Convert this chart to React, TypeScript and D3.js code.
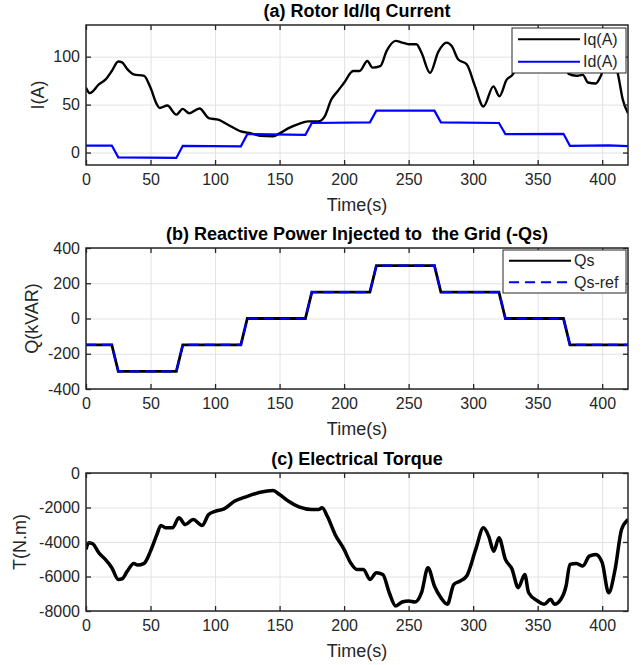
import { useEffect, useRef } from "react";
import * as d3 from "d3";

const W = 641;
const H = 665;

const xTicks = [0, 50, 100, 150, 200, 250, 300, 350, 400];

// (a) rotor currents
const iqTime = [0, 3, 10, 15, 20, 25, 28, 32, 37, 45, 50, 55, 57, 63, 70, 75, 80, 88, 95, 103, 110, 120, 128, 135, 145, 150, 157, 165, 172, 180, 185, 190, 195, 200, 207, 212, 218, 222, 228, 233, 240, 245, 250, 256, 260, 266.6, 273, 279.5, 283.4, 288.5, 295, 301.5, 308, 315.7, 320.3, 326, 330, 333, 337, 340, 345, 350, 355, 360, 365, 370, 374, 380, 385, 389, 395, 399, 405, 409, 412, 416, 420];
const iqValues = [67.5, 62, 71, 76, 85, 95, 94, 87, 81.5, 80, 67.5, 50, 46.5, 49, 39.5, 45.5, 41, 46, 36, 34, 29, 22, 20, 17.5, 17, 20, 25.5, 30, 32.5, 32.5, 37.8, 55, 64, 72.7, 85, 85, 95.5, 88.5, 90, 106, 116.4, 114.7, 113, 113, 104, 83, 105, 114.6, 111, 97, 92, 69, 48, 69, 58.7, 76, 80.4, 86, 95, 92, 100, 108, 112, 110, 110, 100, 82, 80, 81, 73, 72, 80, 103, 95, 83, 55, 41];
const idTime = [0, 20, 25, 70, 75, 120, 125, 170, 175, 220, 225, 270, 275, 320, 325, 370, 375, 405, 420];
const idValues = [7.3, 7.3, -5, -5.6, 7, 6.5, 19.2, 18.5, 30.8, 31.5, 43.7, 43.7, 31.5, 30.8, 19.2, 19.5, 7, 7.5, 6.6];

// (b) reactive power
const qsTime = [0, 20, 25, 70, 75, 120, 125, 170, 175, 220, 225, 270, 275, 320, 325, 370, 375, 420];
const qsValues = [-150, -150, -300, -300, -150, -150, 0, 0, 150, 150, 300, 300, 150, 150, 0, 0, -150, -150];
const qsRefValues = [-150, -150, -300, -300, -150, -150, 0, 0, 150, 150, 300, 300, 150, 150, 0, 0, -150, -150];

// (c) electrical torque
const torqueTime = [0, 2, 5, 10, 15, 20, 25, 28, 32, 37, 40, 45, 50, 55, 58, 62, 67, 72, 77, 83, 90, 95, 100, 107, 115, 125, 135, 145, 150, 157, 165, 175, 180, 183, 187, 193, 200, 205, 210, 215, 220, 225, 230, 235, 240, 245, 250, 255, 260, 265, 270, 275, 280, 285, 290, 295, 302, 308, 312, 316, 320, 325, 330, 335, 340, 343, 350, 355, 360, 363, 368, 372, 375, 380, 385, 390, 395, 400, 405, 410, 415, 420];
const torqueValues = [-4430, -4050, -4090, -4630, -5010, -5490, -6170, -6130, -5690, -5240, -5340, -5240, -4530, -3560, -3040, -3180, -3180, -2600, -2990, -2700, -3040, -2410, -2220, -2080, -1640, -1350, -1120, -1020, -1250, -1640, -1970, -2120, -2120, -2020, -2510, -3560, -4430, -5200, -5590, -5590, -6170, -5780, -5880, -6940, -7710, -7480, -7420, -7480, -6940, -5490, -6550, -7230, -7610, -6460, -6260, -5970, -4430, -3180, -3660, -4530, -3760, -5010, -5550, -6650, -5880, -6940, -7420, -7610, -7320, -7610, -7320, -6550, -5300, -5240, -5390, -4820, -4720, -5200, -6940, -5590, -3280, -2700];

const font = "'Liberation Sans', Arial, Helvetica, sans-serif";
const ink = "#262626";

const App = () => {
  const ref = useRef<SVGSVGElement>(null);

  useEffect(() => {
    const svg = d3.select(ref.current);
    svg.selectAll("*").remove();
    svg.append("rect").attr("width", W).attr("height", H).attr("fill", "white");

    const x = d3.scaleLinear().domain([0, 420]).range([86, 628]);
    const [x0, x1] = x.range();

    const panel = (id, top, bottom, yDomain, yTicks, title, ylabel, ylabelX) => {
      const y = d3.scaleLinear().domain(yDomain).range([bottom, top]);
      const grid = svg.append("g");
      const data = svg.append("g").attr("clip-path", `url(#clip-${id})`);
      const frame = svg.append("g");

      svg.append("clipPath").attr("id", `clip-${id}`)
        .append("rect").attr("x", x0).attr("y", top).attr("width", x1 - x0).attr("height", bottom - top);

      grid.append("g").attr("transform", `translate(0,${bottom})`)
        .call(d3.axisBottom(x).tickValues(xTicks).tickSize(-(bottom - top)).tickFormat(() => ""))
        .call(g => g.select(".domain").remove())
        .call(g => g.selectAll("line").attr("stroke", "#e2e2e2").attr("stroke-width", 1));
      grid.append("g").attr("transform", `translate(${x0},0)`)
        .call(d3.axisLeft(y).tickValues(yTicks).tickSize(-(x1 - x0)).tickFormat(() => ""))
        .call(g => g.select(".domain").remove())
        .call(g => g.selectAll("line").attr("stroke", "#e2e2e2").attr("stroke-width", 1));

      const styleAxis = g => {
        g.select(".domain").remove();
        g.selectAll("line").attr("stroke", ink).attr("stroke-width", 1.3);
        g.selectAll("text").attr("fill", ink).attr("font-family", font).attr("font-size", 16);
      };

      frame.append("g").attr("transform", `translate(0,${bottom})`)
        .call(d3.axisBottom(x).tickValues(xTicks).tickSize(-5).tickPadding(9).tickFormat(d => String(d))).call(styleAxis);
      frame.append("g").attr("transform", `translate(0,${top})`)
        .call(d3.axisTop(x).tickValues(xTicks).tickSize(-5).tickFormat(() => "")).call(styleAxis);
      frame.append("g").attr("transform", `translate(${x0},0)`)
        .call(d3.axisLeft(y).tickValues(yTicks).tickSize(-5).tickPadding(6).tickFormat(d => String(d))).call(styleAxis);
      frame.append("g").attr("transform", `translate(${x1},0)`)
        .call(d3.axisRight(y).tickValues(yTicks).tickSize(-5).tickFormat(() => "")).call(styleAxis);

      frame.append("rect").attr("x", x0).attr("y", top).attr("width", x1 - x0).attr("height", bottom - top)
        .attr("fill", "none").attr("stroke", ink).attr("stroke-width", 1.5);

      frame.append("text").attr("x", (x0 + x1) / 2).attr("y", top - 8)
        .attr("text-anchor", "middle").attr("font-family", font).attr("font-size", 18)
        .attr("font-weight", "bold").attr("fill", "black").style("white-space", "pre").text(title);
      frame.append("text").attr("x", (x0 + x1) / 2).attr("y", bottom + 46)
        .attr("text-anchor", "middle").attr("font-family", font).attr("font-size", 18)
        .attr("fill", ink).text("Time(s)");
      frame.append("text")
        .attr("transform", `translate(${ylabelX},${(top + bottom) / 2}) rotate(-90)`)
        .attr("text-anchor", "middle").attr("dy", "0.35em").attr("font-family", font)
        .attr("font-size", 18).attr("fill", ink).text(ylabel);

      return { y, data, frame };
    };

    const legend = (g, left, top, right, bottom, rows) => {
      g.append("rect").attr("x", left).attr("y", top).attr("width", right - left).attr("height", bottom - top)
        .attr("fill", "white").attr("stroke", ink).attr("stroke-width", 1);
      const step = (bottom - top) / rows.length;
      rows.forEach((r, i) => {
        const cy = top + step * (i + 0.5);
        g.append("line").attr("x1", left + 6).attr("x2", left + 68).attr("y1", cy).attr("y2", cy)
          .attr("stroke", r.color).attr("stroke-width", 2).attr("stroke-dasharray", r.dash || null);
        g.append("text").attr("x", left + 71).attr("y", cy).attr("dy", "0.35em")
          .attr("font-family", font).attr("font-size", 16).attr("fill", ink).text(r.label);
      });
    };

    // (a)
    const a = panel("a", 25, 165, [-13, 133], [0, 50, 100], "(a) Rotor Id/Iq Current", "I(A)", 38);
    const lineA = (times) => d3.line<number>().x((_, i) => x(times[i])).y(v => a.y(v));
    a.data.append("path").datum(iqValues).attr("fill", "none").attr("stroke", "black").attr("stroke-width", 2.4)
      .attr("stroke-linejoin", "round").attr("d", lineA(iqTime).curve(d3.curveMonotoneX));
    a.data.append("path").datum(idValues).attr("fill", "none").attr("stroke", "#0000ff").attr("stroke-width", 2.2)
      .attr("d", lineA(idTime));
    legend(a.frame, 512, 28, 626, 73, [
      { label: "Iq(A)", color: "black" },
      { label: "Id(A)", color: "#0000ff" },
    ]);

    // (b)
    const b = panel("b", 248, 389, [-400, 400], [-400, -200, 0, 200, 400], "(b) Reactive Power Injected to  the Grid (-Qs)", "Q(kVAR)", 32);
    const lineB = d3.line<number>().x((_, i) => x(qsTime[i])).y(v => b.y(v));
    b.data.append("path").datum(qsValues).attr("fill", "none").attr("stroke", "black").attr("stroke-width", 2.8)
      .attr("d", lineB);
    b.data.append("path").datum(qsRefValues).attr("fill", "none").attr("stroke", "#0000ff").attr("stroke-width", 2.2)
      .attr("stroke-dasharray", "10,6").attr("d", lineB);
    legend(b.frame, 503, 250, 626, 293, [
      { label: "Qs", color: "black" },
      { label: "Qs-ref", color: "#0000ff", dash: "10,6" },
    ]);

    // (c)
    const c = panel("c", 473, 611, [-8000, 0], [-8000, -6000, -4000, -2000, 0], "(c) Electrical Torque", "T(N.m)", 20);
    const lineC = d3.line<number>().x((_, i) => x(torqueTime[i])).y(v => c.y(v)).curve(d3.curveMonotoneX);
    c.data.append("path").datum(torqueValues).attr("fill", "none").attr("stroke", "black").attr("stroke-width", 3.5)
      .attr("stroke-linejoin", "round").attr("d", lineC);
  }, []);

  return (
    <svg ref={ref} width={W} height={H} style={{ position: "absolute", left: 0, top: 0 }} />
  );
};

export default App;
